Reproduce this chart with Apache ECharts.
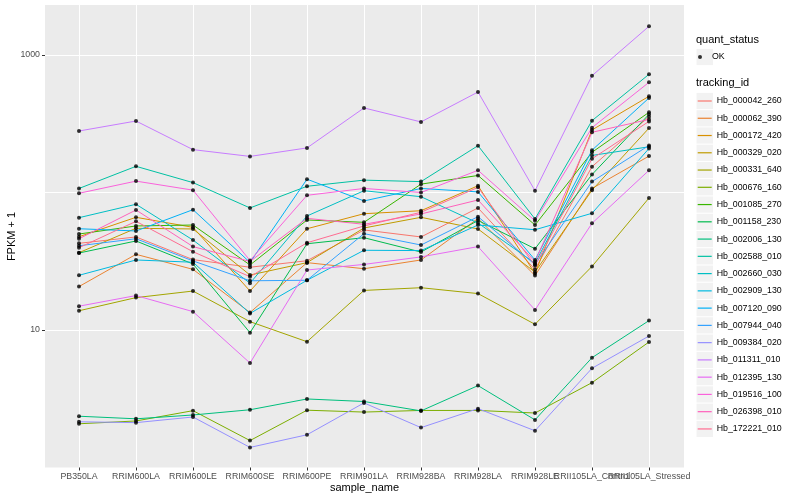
<!DOCTYPE html>
<html><head><meta charset="utf-8">
<script src="https://cdn.jsdelivr.net/npm/echarts@6/dist/echarts.min.js"></script>
<style>html,body{margin:0;padding:0;background:#fff}#c{width:800px;height:500px}</style>
</head><body><div id="c"></div>
<script>
const categories = ['PB350LA','RRIM600LA','RRIM600LE','RRIM600SE','RRIM600PE','RRIM901LA','RRIM928BA','RRIM928LA','RRIM928LE','RRII105LA_Control','RRII105LA_Stressed'];

const Hb_000042_260 = [42.7, 47.5, 32.5, 28.6, 31.9, 53.4, 47.5, 77.2, 27.6, 154, 356];
const Hb_000062_390 = [20.7, 35.5, 27.6, 13.4, 30.9, 27.9, 32.3, 64.7, 24.9, 107, 184];
const Hb_000172_420 = [47.7, 66.0, 55.8, 19.2, 54.5, 70.1, 73.7, 112, 25.8, 285, 501];
const Hb_000329_020 = [36.5, 54.9, 54.3, 25.1, 30.9, 55.2, 66.0, 54.3, 26.4, 104, 294];
const Hb_000331_640 = [13.8, 17.2, 19.2, 11.5, 8.22, 19.4, 20.3, 18.4, 11.0, 29.0, 91.2];
const Hb_000676_160 = [2.08, 2.18, 2.59, 1.57, 2.61, 2.53, 2.60, 2.60, 2.49, 4.14, 8.18];
const Hb_001085_270 = [49.9, 57.1, 58.0, 29.7, 63.1, 60.7, 115, 133, 58.0, 196, 383];
const Hb_001158_230 = [36.3, 44.4, 30.2, 9.56, 42.4, 46.9, 36.9, 62.6, 39.0, 135, 370];
const Hb_002006_130 = [2.36, 2.26, 2.41, 2.63, 3.15, 3.02, 2.58, 3.94, 2.22, 6.29, 11.7];
const Hb_002588_010 = [107, 155, 118, 77.2, 111, 123, 120, 219, 64.2, 333, 724];
const Hb_002660_030 = [65.6, 82.1, 45.1, 21.9, 67.5, 103, 93.2, 60.0, 30.6, 186, 215];
const Hb_002909_130 = [25.0, 32.3, 31.1, 13.2, 23.0, 38.0, 37.8, 58.0, 53.6, 70.6, 209];
const Hb_007120_090 = [54.5, 52.5, 75.0, 31.0, 125, 86.8, 107, 101, 32.3, 203, 487];
const Hb_007944_040 = [41.0, 46.1, 31.8, 22.8, 23.0, 50.2, 41.5, 66.7, 29.9, 120, 220];
const Hb_009384_020 = [2.15, 2.12, 2.33, 1.40, 1.73, 2.95, 1.95, 2.68, 1.85, 5.27, 9.04];
const Hb_011311_010 = [280, 331, 205, 183, 211, 412, 326, 538, 103, 707, 1617];
const Hb_012395_130 = [14.9, 17.8, 13.6, 5.75, 27.3, 30.0, 34.0, 40.4, 14.0, 59.7, 145];
const Hb_019516_100 = [98.7, 121, 104, 32.0, 95.4, 107, 100, 145, 62.3, 296, 633];
const Hb_026398_010 = [46.1, 74.6, 40.4, 31.5, 64.9, 58.7, 69.8, 88.2, 31.4, 274, 340];
const Hb_172221_010 = [39.7, 61.7, 37.1, 24.4, 43.1, 57.1, 71.8, 109, 29.4, 176, 329];

const trackingIds = ['Hb_000042_260','Hb_000062_390','Hb_000172_420','Hb_000329_020','Hb_000331_640','Hb_000676_160','Hb_001085_270','Hb_001158_230','Hb_002006_130','Hb_002588_010','Hb_002660_030','Hb_002909_130','Hb_007120_090','Hb_007944_040','Hb_009384_020','Hb_011311_010','Hb_012395_130','Hb_019516_100','Hb_026398_010','Hb_172221_010'];
const seriesValues = [Hb_000042_260,Hb_000062_390,Hb_000172_420,Hb_000329_020,Hb_000331_640,Hb_000676_160,Hb_001085_270,Hb_001158_230,Hb_002006_130,Hb_002588_010,Hb_002660_030,Hb_002909_130,Hb_007120_090,Hb_007944_040,Hb_009384_020,Hb_011311_010,Hb_012395_130,Hb_019516_100,Hb_026398_010,Hb_172221_010];
const palette = ['#F8766D','#EA8331','#D89000','#C09B00','#A3A500','#7CAE00','#39B600','#00BB4E','#00BF7D','#00C1A3','#00BFC4','#00BAE0','#00B0F6','#35A2FF','#9590FF','#C77CFF','#E76BF3','#FA62DB','#FF62BC','#FF6C91'];
const yTickLabels = [10, 1000];

const FONT = '"Liberation Sans", Arial, Helvetica, sans-serif';
const yMin = 1, yMax = 2310;
const panel = {left: 45, right: 116, top: 5, bottom: 32.5};
const dataGrid = {left: 79, right: 151, top: 5, bottom: 32.5};
const legendPitch = 17.26, legendFirst = 101, keyLeft = 696.5, keyW = 16.5;

const series = trackingIds.map((id, i) => ({
  name: id, type: 'line', xAxisIndex: 1, yAxisIndex: 1,
  data: seriesValues[i], symbol: 'none', showSymbol: false,
  lineStyle: {color: palette[i], width: 1}, itemStyle: {color: palette[i]},
  z: 2, silent: true
}));
const pts = [];
seriesValues.forEach(arr => arr.forEach((v, j) => pts.push([categories[j], v])));
series.push({name: 'OK', type: 'scatter', xAxisIndex: 1, yAxisIndex: 1, data: pts,
  symbol: 'circle', symbolSize: 4, itemStyle: {color: '#000'}, z: 3, silent: true});

const graphics = [];
graphics.push({type: 'rect', left: keyLeft, top: 57 - 8.1, shape: {width: keyW, height: 16.2}, style: {fill: '#F2F2F2'}, z: -1, silent: true});
trackingIds.forEach((id, i) => graphics.push({type: 'rect', left: keyLeft, top: legendFirst + legendPitch * i - 8.1,
  shape: {width: keyW, height: 16.2}, style: {fill: '#F2F2F2'}, z: -1, silent: true}));
// axis titles
graphics.push({type: 'text', x: 364.5, y: 488, silent: true,
  style: {text: 'sample_name', fill: '#000', font: '11px ' + FONT, align: 'center', verticalAlign: 'middle', textAlign: 'center', textVerticalAlign: 'middle'}});
graphics.push({type: 'text', x: 12, y: 236.5, rotation: Math.PI / 2, silent: true,
  style: {text: 'FPKM + 1', fill: '#000', font: '11px ' + FONT, align: 'center', verticalAlign: 'middle', textAlign: 'center', textVerticalAlign: 'middle'}});

const option = {
  animation: false,
  backgroundColor: '#fff',
  textStyle: {fontFamily: FONT},
  title: [
    {text: 'quant_status', left: 696, top: 34.5, padding: 0, textStyle: {fontSize: 11, fontWeight: 'normal', color: '#000', fontFamily: FONT}},
    {text: 'tracking_id', left: 696, top: 77.5, padding: 0, textStyle: {fontSize: 11, fontWeight: 'normal', color: '#000', fontFamily: FONT}}
  ],
  legend: [
    {orient: 'vertical', left: 698, top: 57 - legendPitch / 2, padding: 0, itemGap: 0, itemWidth: 14, itemHeight: 4,
     icon: 'circle', selectedMode: false, data: ['OK'],
     textStyle: {fontSize: 8.8, lineHeight: legendPitch, color: '#000', fontFamily: FONT}},
    {orient: 'vertical', left: 697.7, top: legendFirst - legendPitch / 2, padding: 0, itemGap: 0, itemWidth: 14, itemHeight: 1.2,
     icon: 'rect', selectedMode: false, data: trackingIds,
     textStyle: {fontSize: 8.8, lineHeight: legendPitch, color: '#000', fontFamily: FONT}}
  ],
  graphic: graphics,
  grid: [
    Object.assign({show: true, backgroundColor: '#EBEBEB', borderWidth: 0, containLabel: false, outerBoundsMode: 'none'}, panel),
    Object.assign({show: false, containLabel: false, outerBoundsMode: 'none'}, dataGrid)
  ],
  xAxis: [
    {type: 'value', gridIndex: 0, show: false, min: 0, max: 1},
    {type: 'category', gridIndex: 1, data: categories, boundaryGap: false,
     axisLine: {show: false},
     axisTick: {show: true, interval: 0, length: 3, lineStyle: {color: '#333333', width: 1}},
     axisLabel: {interval: 0, hideOverlap: false, color: '#4D4D4D', fontSize: 8.8, margin: 5, fontFamily: FONT},
     splitLine: {show: true, interval: 0, lineStyle: {color: '#FFFFFF', width: 1}}}
  ],
  yAxis: [
    {type: 'log', logBase: 10, gridIndex: 0, min: yMin, max: yMax,
     axisLine: {show: false}, axisTick: {show: false},
     axisLabel: {color: '#4D4D4D', fontSize: 8.8, margin: 5, fontFamily: FONT,
       formatter: v => (yTickLabels.indexOf(Math.round(v)) >= 0 ? String(Math.round(v)) : '')},
     splitLine: {show: true, showMinLine: false, showMaxLine: false, lineStyle: {color: '#FFFFFF', width: 1}}},
    {type: 'log', logBase: 10, gridIndex: 1, min: yMin, max: yMax, offset: 34,
     axisLine: {show: false}, axisLabel: {show: false}, splitLine: {show: false},
     axisTick: {show: true, customValues: yTickLabels, length: 3, lineStyle: {color: '#333333', width: 1}}}
  ],
  series: series
};
const chart = echarts.init(document.getElementById('c'), null, {renderer: 'canvas'});
chart.setOption(option);
</script></body></html>
